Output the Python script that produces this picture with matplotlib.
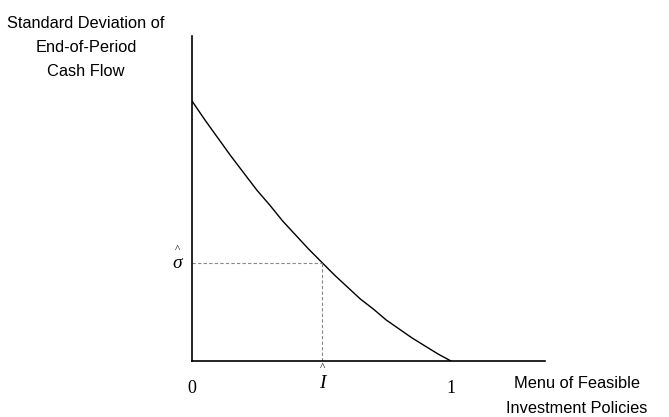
import matplotlib.pyplot as plt

plt.rcParams["font.family"] = "sans-serif"
plt.rcParams["font.sans-serif"] = ["Liberation Sans", "DejaVu Sans"]

# ========== data ==========
# x: share of the feasible investment menu, y: std. dev. of end-of-period cash flow
policy_x = [0.0, 0.05, 0.1, 0.15, 0.2, 0.25, 0.3, 0.35, 0.4, 0.45, 0.5,
            0.55, 0.6, 0.65, 0.7, 0.75, 0.8, 0.85, 0.9, 0.95, 1.0]
sd_y = [260, 241, 223, 205, 188, 171, 156, 140, 126, 112, 99,
        86, 74, 62, 52, 41, 32, 23, 15, 7, 0]
i_hat = 0.502
sigma_hat = 98
x_ticks = [0, 1]
x_tick_labels = ["0", "1"]

fig = plt.figure(figsize=(6.69, 4.17), dpi=100)
ax = fig.add_axes([0.287, 0.1343, 0.5276, 0.7794])

ax.plot(policy_x, sd_y, color="black", linewidth=1.0)

# dotted guides to sigma-hat and I-hat
ax.plot([0, i_hat], [sigma_hat, sigma_hat], color="#888888", linestyle=(0, (3, 2)), linewidth=0.8)
ax.plot([i_hat, i_hat], [0, sigma_hat], color="#888888", linestyle=(0, (3, 2)), linewidth=0.8)

ax.set_xlim(0, 1.363)
ax.set_ylim(0, 325)
ax.set_xticks([])
ax.set_yticks([])
for s in ["top", "right"]:
    ax.spines[s].set_visible(False)
for s in ["left", "bottom"]:
    ax.spines[s].set_linewidth(1.2)

serif = ["Liberation Serif", "DejaVu Serif"]

# tick labels 0 and 1
for xv, lab in zip(x_ticks, x_tick_labels):
    ax.annotate(lab, xy=(xv, 0), xytext=(0, -19.5), textcoords="offset points",
                ha="center", va="center", fontsize=13, family=serif)

# I-hat
ax.annotate("I", xy=(i_hat, 0), xytext=(0, -16), textcoords="offset points",
            ha="center", va="center", fontsize=14, family=serif, style="italic")
ax.annotate("^", xy=(i_hat, 0), xytext=(0, -4.5), textcoords="offset points",
            ha="center", va="center", fontsize=8, family=serif)

# sigma-hat
ax.annotate("σ", xy=(0, sigma_hat), xytext=(-10.5, -0.5), textcoords="offset points",
            ha="center", va="center", fontsize=14, family=serif, style="italic")
ax.annotate("^", xy=(0, sigma_hat), xytext=(-10.5, 10), textcoords="offset points",
            ha="center", va="center", fontsize=8, family=serif)

# axis titles
fig.text(86 / 669, 1 - 47.5 / 417, "Standard Deviation of\nEnd-of-Period\nCash Flow",
         ha="center", va="center", fontsize=11.8, linespacing=1.78)
fig.text(576.5 / 669, 1 - 396 / 417, "Menu of Feasible\nInvestment Policies",
         ha="center", va="center", fontsize=11.8, linespacing=1.8)

# panel label, cut off at the top edge
fig.text(347 / 669, 1.018, "(a)", ha="center", va="center", fontsize=12, family=serif)

fig.savefig("out.png", dpi=100)
